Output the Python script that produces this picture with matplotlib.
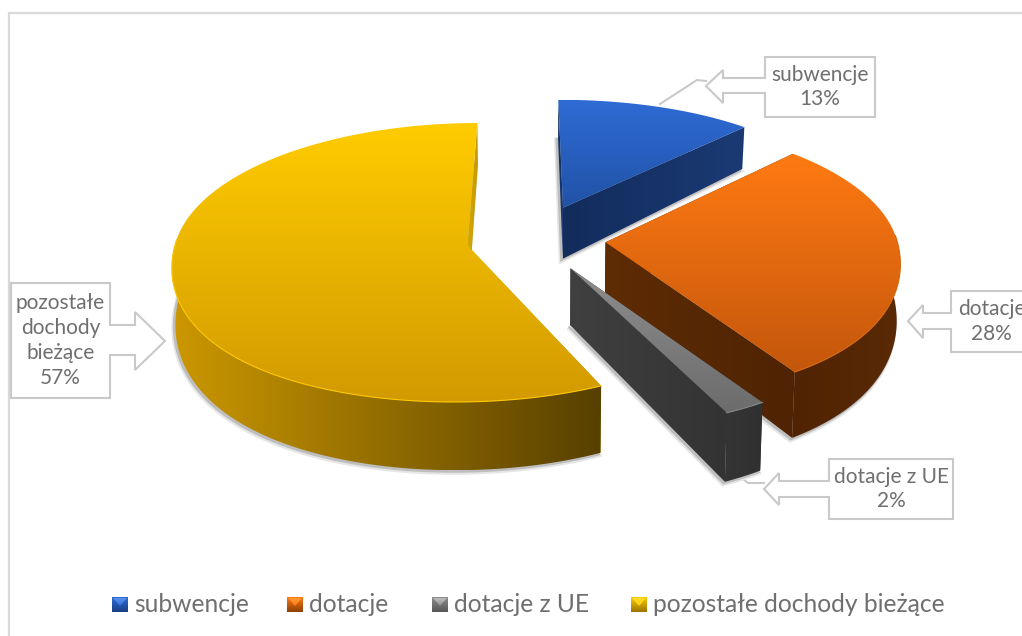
import numpy as np
import matplotlib
matplotlib.use("Agg")
import matplotlib.pyplot as plt
from matplotlib.colors import LinearSegmentedColormap
from matplotlib.patches import Polygon

# data
names = ["subwencje", "dotacje", "dotacje z UE", "pozostałe dochody bieżące"]
shares = [13, 28, 2, 57]
label_text = ["subwencje", "dotacje", "dotacje z UE", "pozostałe\ndochody\nbieżące"]

# colours: top surface (top, bottom), cut face and outer wall (left, right)
top_colors = [("#2F6BD6", "#2153A6"), ("#FF7A12", "#C4570C"), ("#8E8E8E", "#6C6C6C"), ("#FFCC00", "#D29A00")]
face_colors = [("#122C5C", "#1B3A74"), ("#5E2C05", "#4F2303"), ("#404040", "#333333"), ("#D6A800", "#C49A00")]
wall_colors = [("#122C5C", "#1B3A74"), ("#502303", "#5A2A05"), ("#353535", "#303030"), ("#CC9800", "#574000")]
rim_colors = ["#3A78E0", "#D96A10", "#8A8A8A", "#FFC800"]
legend_light = ["#5C93EE", "#FF9A35", "#BDBDBD", "#FFE030"]
legend_dark = ["#173E82", "#8E3F08", "#555555", "#9A7400"]

# projection of the tilted pie, in pixels
XC, YC, RX, RY = 536, 238, 291, 141
EXPLODE = 0.24
DEPTH = 54
TEXT_COL = "#6F6F6F"
LINE_COL = "#C9C9C9"

plt.rcParams["font.family"] = ["Lato", "DejaVu Sans"]


def project(u, v, low=False):
    far = 1 + 0.1 * v - 0.05 * v ** 2
    px = np.where(v < 0, far, 1 + 0.1 * v + 0.08 * v ** 2)
    py = np.where(v < 0, far, 1 + 0.1 * v)
    x = XC + RX * u * px
    y = YC + RY * v * py
    if low:
        x = XC + (x - XC) * 0.99
        y = y + DEPTH * (1 + 0.25 * v)
    return x, y


def gradient(ax, verts, c0, c1, horizontal, z):
    verts = np.asarray(verts)
    patch = Polygon(verts, closed=True, fc="none", ec="none", transform=ax.transData)
    ax.add_patch(patch)
    cmap = LinearSegmentedColormap.from_list("g", [c0, c1])
    ramp = np.linspace(0, 1, 256)
    ramp = ramp.reshape(1, -1) if horizontal else ramp.reshape(-1, 1)
    x0, y0 = verts.min(axis=0)
    x1, y1 = verts.max(axis=0)
    im = ax.imshow(ramp, extent=(x0, x1, y1, y0), cmap=cmap, aspect="auto", zorder=z,
                   interpolation="bilinear")
    im.set_clip_path(patch)


def callout(ax, box, tip, shaft, head, base_x, text):
    x0, y0, x1, y1 = box
    tx, ty = tip
    if tx < x0:
        pts = [(x0, y0), (x1, y0), (x1, y1), (x0, y1), (x0, shaft[1]), (base_x, shaft[1]),
               (base_x, head[1]), (tx, ty), (base_x, head[0]), (base_x, shaft[0]), (x0, shaft[0])]
    else:
        pts = [(x0, y0), (x1, y0), (x1, shaft[0]), (base_x, shaft[0]), (base_x, head[0]), (tx, ty),
               (base_x, head[1]), (base_x, shaft[1]), (x1, shaft[1]), (x1, y1), (x0, y1)]
    ax.add_patch(Polygon(pts, closed=True, fc="white", ec=LINE_COL, lw=1.5, zorder=60))
    ax.text((x0 + x1) / 2, (y0 + y1) / 2, text, ha="center", va="center", color=TEXT_COL,
            fontsize=15, linespacing=1.3, zorder=61)


fig = plt.figure(figsize=(10.22, 6.36), dpi=100)
ax = fig.add_axes([0, 0, 1, 1])

z = 2
angles = np.cumsum([0] + shares) * 3.6
order = [3, 0, 1, 2]
for i in order:
    a0, a1 = np.radians(angles[i]), np.radians(angles[i + 1])
    mid = (a0 + a1) / 2
    cu, cv = EXPLODE * np.sin(mid), -EXPLODE * np.cos(mid)
    th = np.linspace(a0, a1, 200)
    u = cu + np.sin(th)
    v = cv - np.cos(th)
    ax_top = np.column_stack(project(u, v))
    ax_low = np.column_stack(project(u, v, True))
    tip_top = np.column_stack(project(np.array([cu]), np.array([cv])))
    tip_low = np.column_stack(project(np.array([cu]), np.array([cv]), True))

    # soft shadow under the slice
    outline = np.vstack([tip_low, ax_low])
    for off, col, lw in [((-2, 2.5), "#E6E6E6", 3), ((-1.5, 1.5), "#BEBEBE", 1.5)]:
        ax.add_patch(Polygon(outline + off, closed=True, fc=col, ec=col, lw=lw, zorder=z))
        z += 1

    # cut faces
    for k in (0, -1):
        face = np.vstack([tip_top, ax_top[k], ax_low[k], tip_low])
        gradient(ax, face, face_colors[i][0], face_colors[i][1], True, z)
        z += 1

    # outer wall, near side only
    keep = np.cos(th) < 0.05
    if keep.sum() > 1:
        wall = np.vstack([ax_top[keep], ax_low[keep][::-1]])
        gradient(ax, wall, wall_colors[i][0], wall_colors[i][1], True, z)
        z += 1

    # top surface
    top = np.vstack([tip_top, ax_top])
    gradient(ax, top, top_colors[i][0], top_colors[i][1], False, z)
    z += 1
    if keep.sum() > 1:
        ax.plot(ax_top[keep, 0], ax_top[keep, 1], color=rim_colors[i], lw=0.8, zorder=z)
        z += 1

# leader lines from the callouts
ax.plot([706, 697, 660], [81, 80, 104], color=LINE_COL, lw=1.5, zorder=1)
ax.plot([764, 748, 742], [483, 483, 478], color=LINE_COL, lw=1.5, zorder=1)

# data labels
callout(ax, (765, 57, 875, 117), (706, 86), (78, 93), (70, 103), 723, f"{label_text[0]}\n{shares[0]}%")
callout(ax, (951, 291, 1032, 352), (908, 321), (313, 329), (305, 338), 923, f"{label_text[1]}\n{shares[1]}%")
callout(ax, (829, 459, 953, 519), (764, 489), (481, 497), (473, 505), 779, f"{label_text[2]}\n{shares[2]}%")
callout(ax, (11, 283, 110, 398), (165, 341), (325, 355), (312, 370), 135, f"{label_text[3]}\n{shares[3]}%")

# chart border, open at the right and bottom
ax.plot([9, 9, 1022], [636, 12.5, 12.5], color="#D9D9D9", lw=1.6, zorder=1, solid_joinstyle="miter")

# legend
legend_x = [112, 287, 432, 631]
for i, name in enumerate(names):
    x = legend_x[i]
    gradient(ax, [(x, 597), (x + 16, 597), (x + 16, 612), (x, 612)],
             top_colors[i][0], legend_dark[i], False, 70)
    gradient(ax, [(x + 1, 598), (x + 15, 598), (x + 8, 606)], legend_light[i], top_colors[i][0], False, 71)
    ax.text(x + 22, 604, name, ha="left", va="center", color=TEXT_COL, fontsize=17.7, zorder=72)

ax.set_xlim(0, 1022)
ax.set_ylim(636, 0)
ax.axis("off")
fig.savefig("out.png", dpi=100, facecolor="white")
